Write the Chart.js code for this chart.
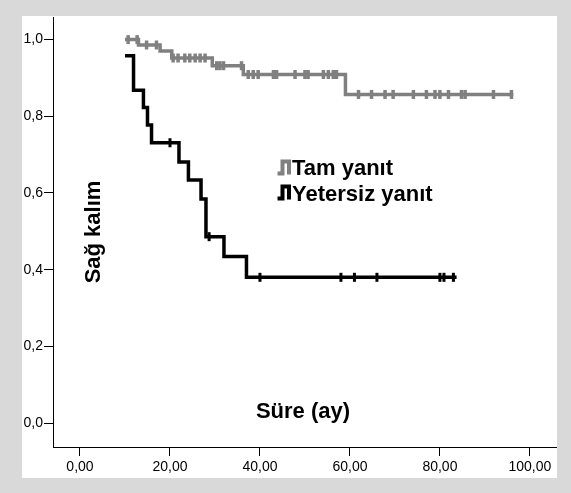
<!DOCTYPE html>
<html><head><meta charset="utf-8">
<script src="https://cdn.jsdelivr.net/npm/chart.js@4/dist/chart.umd.min.js"></script>
<style>html,body{margin:0;padding:0;background:#d9d9d9;}canvas{display:block}</style>
</head><body>
<canvas id="c" width="571" height="493"></canvas>
<script>
// Tick labels
const xTicks = [0, 20, 40, 60, 80, 100];
const yTicks = [0, 0.2, 0.4, 0.6, 0.8, 1.0];
// Series names
const seriesNames = ['Tam yanıt', 'Yetersiz yanıt'];
// "Tam yanıt" step curve (time, survival)
const tamTimes = [10, 13, 17.8, 20.4, 29.4, 36.3, 59, 96.3];
const tamSurv  = [1.0, 0.986, 0.97, 0.952, 0.932, 0.909, 0.857, 0.857];
// "Tam yanıt" censored observations
const tamCensorTimes = [10.7, 12.7, 14.8, 17, 20.7, 21.8, 23.3, 24.4, 25.6, 26.7, 27.8, 30.4, 31.1, 31.9, 35.9,
  37.4, 38.5, 39.6, 43.0, 43.7, 47.8, 50.0, 50.7, 54.1, 55.2, 56.3, 57.0,
  61.9, 64.8, 67.8, 69.6, 74.1, 77.0, 78.9, 80, 81.9, 84.8, 85.6, 91.9, 95.9];
const tamCensorSurv = [1.0, 1.0, 0.986, 0.986, 0.952, 0.952, 0.952, 0.952, 0.952, 0.952, 0.952, 0.932, 0.932, 0.932, 0.932,
  0.909, 0.909, 0.909, 0.909, 0.909, 0.909, 0.909, 0.909, 0.909, 0.909, 0.909, 0.909,
  0.857, 0.857, 0.857, 0.857, 0.857, 0.857, 0.857, 0.857, 0.857, 0.857, 0.857, 0.857, 0.857];
// "Yetersiz yanıt" step curve
const yetTimes = [10, 11.9, 14.1, 15.0, 15.9, 22, 24.1, 26.9, 28, 32, 37, 83.7];
const yetSurv  = [0.958, 0.868, 0.823, 0.777, 0.731, 0.681, 0.634, 0.584, 0.486, 0.434, 0.380, 0.380];
// "Yetersiz yanıt" censored observations
const yetCensorTimes = [20, 28.7, 40, 58, 61, 66, 80, 80.9, 83.0];
const yetCensorSurv  = [0.731, 0.486, 0.380, 0.380, 0.380, 0.380, 0.380, 0.380, 0.380];

const GRAY = '#808080';
const pts = (xs, ys) => xs.map((x, i) => ({x: x, y: ys[i]}));

const bgPlugin = {
  id: 'bg',
  beforeDraw(chart) {
    const c = chart.ctx;
    c.save();
    c.fillStyle = '#d9d9d9';
    c.fillRect(0, 0, chart.width, chart.height);
    c.fillStyle = '#ffffff';
    c.fillRect(22, 16, 535, 462);
    c.restore();
  }
};

const textPlugin = {
  id: 'texts',
  afterDraw(chart) {
    const c = chart.ctx;
    c.save();
    c.fillStyle = '#000';
    c.font = 'bold 22px "Liberation Sans", Arial, sans-serif';
    c.textAlign = 'center';
    c.textBaseline = 'middle';
    c.fillText('Süre (ay)', 303, 412);
    c.save();
    c.translate(94, 232);
    c.rotate(-Math.PI / 2);
    c.fillText('Sağ kalım', 0, 0);
    c.restore();
    // legend
    const icon = (y0, col) => {
      c.strokeStyle = col;
      c.lineWidth = 4;
      c.lineJoin = 'miter';
      c.beginPath();
      c.moveTo(277.5, y0 + 12);
      c.lineTo(282.5, y0 + 12);
      c.lineTo(282.5, y0);
      c.lineTo(289, y0);
      c.lineTo(289, y0 + 13);
      c.stroke();
    };
    icon(161.5, GRAY);
    icon(186.5, '#000');
    c.textAlign = 'left';
    c.textBaseline = 'alphabetic';
    c.fillText(seriesNames[0], 292, 175);
    c.fillText(seriesNames[1], 292, 200.5);
    c.restore();
  }
};

const axisCommon = {
  type: 'linear',
  grid: {drawOnChartArea: false, drawTicks: true, tickLength: 9, color: '#000', lineWidth: 1},
  border: {color: '#000', width: 1},
};

new Chart(document.getElementById('c'), {
  type: 'scatter',
  data: {
    datasets: [
      {type: 'line', label: seriesNames[0], data: pts(tamTimes, tamSurv), stepped: 'before',
        borderColor: GRAY, borderWidth: 3.5, pointRadius: 0, fill: false},
      {type: 'line', label: seriesNames[1], data: pts(yetTimes, yetSurv), stepped: 'before',
        borderColor: '#000', borderWidth: 3.5, pointRadius: 0, fill: false},
      {type: 'scatter', data: pts(tamCensorTimes, tamCensorSurv), pointStyle: 'line', rotation: 90,
        pointRadius: 4.5, borderWidth: 3.5, borderColor: GRAY, backgroundColor: GRAY},
      {type: 'scatter', data: pts(yetCensorTimes, yetCensorSurv), pointStyle: 'line', rotation: 90,
        pointRadius: 4.5, borderWidth: 3, borderColor: '#000', backgroundColor: '#000'}
    ]
  },
  options: {
    responsive: false, animation: false, devicePixelRatio: 1,
    layout: {padding: {left: 22, top: 17, right: 15, bottom: 16}},
    plugins: {legend: {display: false}, tooltip: {enabled: false}},
    scales: {
      x: Object.assign({}, axisCommon, {
        min: -6, max: 105.8,
        afterBuildTicks: s => { s.ticks = xTicks.map(v => ({value: v})); },
        afterFit: s => { s.height = 30; },
        ticks: {color: '#000', autoSkip: false, maxRotation: 0, padding: 3,
          font: {family: '"Liberation Sans", Arial, sans-serif', size: 14},
          callback: v => Number(v).toFixed(2).replace('.', ',')}
      }),
      y: Object.assign({}, axisCommon, {
        min: -0.0626, max: 1.059,
        afterBuildTicks: s => { s.ticks = yTicks.map(v => ({value: v})); },
        afterFit: s => { s.width = 31; },
        ticks: {color: '#000', autoSkip: false, padding: 1,
          font: {family: '"Liberation Sans", Arial, sans-serif', size: 14},
          callback: v => Number(v).toFixed(1).replace('.', ',')}
      })
    }
  },
  plugins: [bgPlugin, textPlugin]
});
</script>
</body></html>
